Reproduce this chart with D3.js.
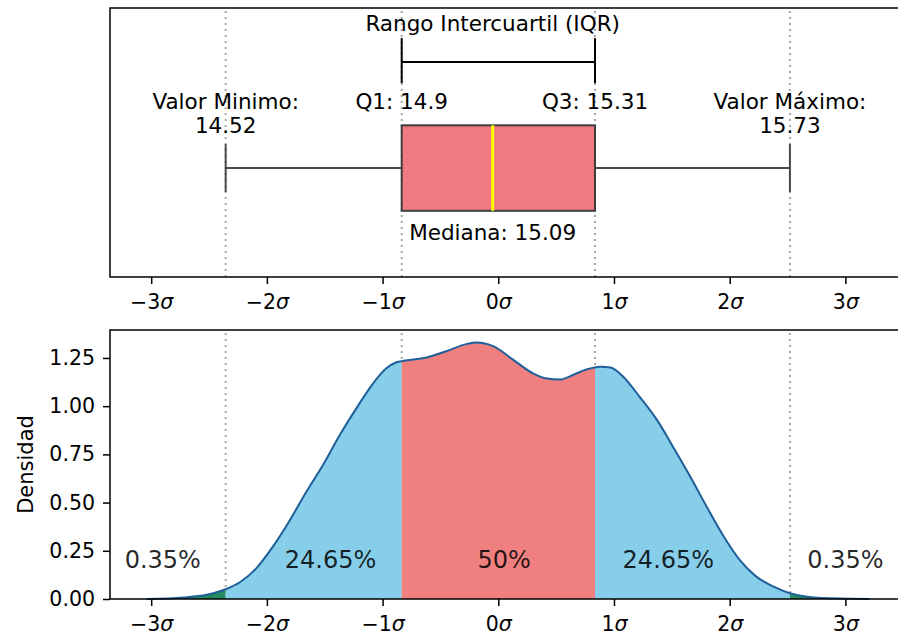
<!DOCTYPE html>
<html lang="es">
<head>
    <meta charset="UTF-8">
    <title>Rango Intercuartil</title>
    <script src="https://d3js.org/d3.v7.min.js"></script>
    <style>
        body { margin: 0; background: #fff; }
        text { font-family: "DejaVu Sans", sans-serif; fill: #000; }
    </style>
</head>
<body>
<div id="chart"></div>
<script>
    // sample summary (original units)
    const mean = 15.1046, sd = 0.2481;
    const statNames = ['min', 'q1', 'median', 'q3', 'max'];
    const statValues = [14.52, 14.8975, 15.0926, 15.312, 15.73];

    // density curve, x in sigma units
    const kdeSigma = [-3.04, -2.72, -2.52, -2.35, -2.23, -2.09, -1.95, -1.80, -1.66, -1.51, -1.37, -1.22, -1.08,
        -0.97, -0.88, -0.82, -0.62, -0.45, -0.27, -0.19, -0.04, 0.13, 0.30, 0.42, 0.53, 0.65, 0.76, 0.88, 0.97,
        1.08, 1.22, 1.37, 1.51, 1.66, 1.80, 1.95, 2.09, 2.23, 2.38, 2.52, 2.67, 2.95, 3.21];
    const kdeDensity = [0.000, 0.008, 0.022, 0.052, 0.088, 0.16, 0.27, 0.41, 0.555, 0.70, 0.85, 0.995, 1.12,
        1.195, 1.228, 1.235, 1.252, 1.285, 1.323, 1.33, 1.31, 1.24, 1.17, 1.143, 1.138, 1.163, 1.19, 1.205, 1.20,
        1.153, 1.05, 0.93, 0.79, 0.634, 0.48, 0.323, 0.20, 0.116, 0.064, 0.03, 0.012, 0.002, 0.000];

    const sigmaTicks = [-3, -2, -1, 0, 1, 2, 3];
    const densityTicks = [0, 0.25, 0.5, 0.75, 1.0, 1.25];

    const bandLabels = ['0.35%', '24.65%', '50%', '24.65%', '0.35%'];
    const bandLabelSigma = [-2.9, -1.45, 0.05, 1.47, 3.0];
    const bandColors = ['#238b5e', '#87ceeb', '#f08080', '#87ceeb', '#238b5e'];

    const width = 898, height = 637;
    const svg = d3.select('#chart').append('svg')
        .attr('width', width)
        .attr('height', height);

    const z = v => (v - mean) / sd;
    const stat = {};
    statNames.forEach((n, i) => stat[n] = statValues[i]);
    const fmt = v => String(+v.toFixed(2));

    const x = d3.scaleLinear().domain([-3.356, 3.524]).range([110, 906]);
    const yTop = d3.scaleLinear().domain([-0.637, 0.936]).range([277, 8]);
    const yBot = d3.scaleLinear().domain([0, 1.395]).range([599, 330]);

    const sigmaLabel = (g) => {
        g.selectAll('.tick text').text(null).each(function (d) {
            const t = d3.select(this);
            t.append('tspan').text(d < 0 ? '\u2212' + Math.abs(d) : d);
            t.append('tspan').attr('font-style', 'italic').text('\u03c3');
        });
    };

    const drawXAxis = (yPos) => {
        const g = svg.append('g')
            .attr('transform', `translate(0,${yPos})`)
            .call(d3.axisBottom(x).tickValues(sigmaTicks).tickSize(7).tickPadding(10));
        g.select('.domain').remove();
        g.selectAll('.tick line').attr('stroke', '#000').attr('stroke-width', 1.5);
        g.selectAll('.tick text').attr('font-size', 20.5).attr('font-family', 'DejaVu Sans');
        g.call(sigmaLabel);
    };

    const dotted = (panel, yScale) => {
        panel.selectAll('line.guide')
            .data(['min', 'q1', 'q3', 'max'])
            .enter()
            .append('line')
            .attr('class', 'guide')
            .attr('x1', d => x(z(stat[d])))
            .attr('x2', d => x(z(stat[d])))
            .attr('y1', yScale.range()[0])
            .attr('y2', yScale.range()[1])
            .attr('stroke', '#a8a8a8')
            .attr('stroke-width', 2)
            .attr('stroke-dasharray', '2,4');
    };

    // ---------- top panel: boxplot ----------
    const boxPanel = svg.append('g').attr('class', 'top-panel');
    dotted(boxPanel, yTop);

    const lineColor = '#4a4a4a';
    // whiskers
    boxPanel.selectAll('line.whisker')
        .data([['min', 'q1'], ['q3', 'max']])
        .enter()
        .append('line')
        .attr('x1', d => x(z(stat[d[0]])))
        .attr('x2', d => x(z(stat[d[1]])))
        .attr('y1', yTop(0))
        .attr('y2', yTop(0))
        .attr('stroke', lineColor)
        .attr('stroke-width', 2);

    boxPanel.selectAll('line.cap')
        .data(['min', 'max'])
        .enter()
        .append('line')
        .attr('x1', d => x(z(stat[d])))
        .attr('x2', d => x(z(stat[d])))
        .attr('y1', yTop(0.14))
        .attr('y2', yTop(-0.14))
        .attr('stroke', lineColor)
        .attr('stroke-width', 2);

    boxPanel.append('rect')
        .attr('x', x(z(stat.q1)))
        .attr('width', x(z(stat.q3)) - x(z(stat.q1)))
        .attr('y', yTop(0.25))
        .attr('height', yTop(-0.25) - yTop(0.25))
        .attr('fill', '#f07a80')
        .attr('stroke', '#3d3d3d')
        .attr('stroke-width', 2);

    boxPanel.append('line')
        .attr('x1', x(z(stat.median)))
        .attr('x2', x(z(stat.median)))
        .attr('y1', yTop(0.25))
        .attr('y2', yTop(-0.25))
        .attr('stroke', '#ffff00')
        .attr('stroke-width', 3);

    // IQR bracket
    boxPanel.append('line')
        .attr('x1', x(z(stat.q1))).attr('x2', x(z(stat.q3)))
        .attr('y1', yTop(0.62)).attr('y2', yTop(0.62))
        .attr('stroke', '#000').attr('stroke-width', 2);
    boxPanel.selectAll('line.bracket')
        .data(['q1', 'q3'])
        .enter()
        .append('line')
        .attr('x1', d => x(z(stat[d]))).attr('x2', d => x(z(stat[d])))
        .attr('y1', yTop(0.76)).attr('y2', yTop(0.497))
        .attr('stroke', '#000').attr('stroke-width', 2);

    boxPanel.append('text')
        .attr('x', x(z(stat.median)))
        .attr('y', yTop(0.80))
        .attr('text-anchor', 'middle')
        .attr('font-size', 21.5)
        .text('Rango Intercuartil (IQR)');

    const notes = [
        {key: 'min', lines: ['Valor Minimo:', fmt(stat.min)]},
        {key: 'q1', lines: ['Q1: ' + fmt(stat.q1)]},
        {key: 'q3', lines: ['Q3: ' + fmt(stat.q3)]},
        {key: 'max', lines: ['Valor M\u00e1ximo:', fmt(stat.max)]}
    ];
    notes.forEach(n => {
        const t = boxPanel.append('text')
            .attr('text-anchor', 'middle')
            .attr('font-size', 21.5);
        n.lines.forEach((s, i) => {
            t.append('tspan')
                .attr('x', x(z(stat[n.key])))
                .attr('y', yTop(i === 0 ? 0.345 : 0.205))
                .text(s);
        });
    });

    boxPanel.append('text')
        .attr('x', x(z(stat.median)))
        .attr('y', yTop(-0.421))
        .attr('text-anchor', 'middle')
        .attr('font-size', 21.5)
        .text('Mediana: ' + fmt(stat.median));

    boxPanel.append('rect')
        .attr('x', 110).attr('y', yTop.range()[1])
        .attr('width', x.range()[1] - 110)
        .attr('height', yTop.range()[0] - yTop.range()[1])
        .attr('fill', 'none').attr('stroke', '#000').attr('stroke-width', 1.5);
    drawXAxis(yTop.range()[0]);

    // ---------- bottom panel: density ----------
    const densPanel = svg.append('g').attr('class', 'bottom-panel');
    dotted(densPanel, yBot);

    const kde = kdeSigma.map((s, i) => [s, kdeDensity[i]]);
    const bounds = [x.domain()[0], z(stat.min), z(stat.q1), z(stat.q3), z(stat.max), x.domain()[1]];

    const defs = svg.append('defs');
    bandColors.forEach((c, i) => {
        defs.append('clipPath')
            .attr('id', `band-${i}`)
            .append('rect')
            .attr('x', x(bounds[i]))
            .attr('width', x(bounds[i + 1]) - x(bounds[i]))
            .attr('y', yBot.range()[1])
            .attr('height', yBot.range()[0] - yBot.range()[1]);
    });

    const area = d3.area()
        .x(d => x(d[0]))
        .y0(yBot(0))
        .y1(d => yBot(d[1]))
        .curve(d3.curveMonotoneX);

    densPanel.selectAll('path.band')
        .data(bandColors)
        .enter()
        .append('path')
        .attr('class', 'band')
        .attr('clip-path', (d, i) => `url(#band-${i})`)
        .attr('d', area(kde))
        .attr('fill', d => d);

    densPanel.append('path')
        .attr('d', d3.line().x(d => x(d[0])).y(d => yBot(d[1])).curve(d3.curveMonotoneX)(kde))
        .attr('fill', 'none')
        .attr('stroke', '#1f5f99')
        .attr('stroke-width', 2);

    densPanel.selectAll('text.band-label')
        .data(bandLabels)
        .enter()
        .append('text')
        .attr('x', (d, i) => x(bandLabelSigma[i]))
        .attr('y', yBot(0.16))
        .attr('text-anchor', 'middle')
        .attr('font-size', 24)
        .attr('fill-opacity', 0.85)
        .text(d => d);

    densPanel.append('rect')
        .attr('x', 110).attr('y', yBot.range()[1])
        .attr('width', x.range()[1] - 110)
        .attr('height', yBot.range()[0] - yBot.range()[1])
        .attr('fill', 'none').attr('stroke', '#000').attr('stroke-width', 1.5);
    drawXAxis(yBot.range()[0]);

    const yAxis = svg.append('g')
        .attr('transform', 'translate(110,0)')
        .call(d3.axisLeft(yBot).tickValues(densityTicks).tickFormat(d3.format('.2f')).tickSize(7).tickPadding(8));
    yAxis.select('.domain').remove();
    yAxis.selectAll('.tick line').attr('stroke', '#000').attr('stroke-width', 1.5);
    yAxis.selectAll('.tick text').attr('font-size', 20.5).attr('font-family', 'DejaVu Sans');

    svg.append('text')
        .attr('transform', `translate(33,${(yBot.range()[0] + yBot.range()[1]) / 2}) rotate(-90)`)
        .attr('text-anchor', 'middle')
        .attr('font-size', 21)
        .text('Densidad');
</script>
</body>
</html>
